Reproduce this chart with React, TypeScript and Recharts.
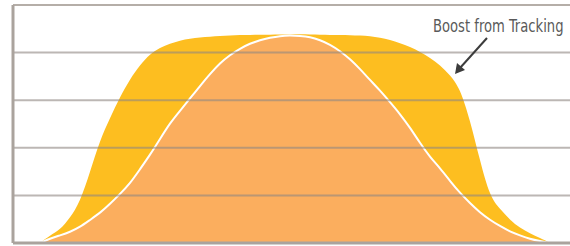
import React from "react";
import { ComposedChart, Area, XAxis, YAxis, ReferenceLine } from "recharts";

const xs = [40, 50, 60, 70, 80, 90, 100, 110, 120, 130, 140, 150, 160, 170, 180, 190, 200, 210, 220, 230, 240, 250, 260, 270, 280, 290, 300, 310, 320, 330, 340, 350, 360, 370, 380, 390, 400, 410, 420, 430, 440, 450, 460, 470, 480, 490, 500, 510, 520, 530, 540, 550];
const withTracking = [0, 3.2, 5.5, 10.5, 17.2, 29.8, 43.3, 52.5, 61.3, 68.9, 74.8, 79.4, 82.1, 83.8, 85.1, 85.9, 86.4, 86.7, 87.0, 87.2, 87.4, 87.4, 87.5, 87.5, 87.6, 87.6, 87.7, 87.6, 87.5, 87.4, 87.4, 87.3, 87.2, 87.0, 86.3, 85.3, 84.0, 82.4, 80.3, 77.9, 74.8, 70.6, 65.1, 51.7, 34.5, 19.3, 14.3, 9.7, 6.3, 4.0, 2.1, 0];
const fixedMount = [0, 1.9, 3.2, 4.6, 6.7, 9.7, 12.6, 16.4, 20.6, 25.0, 31.0, 37.0, 43.7, 50.4, 55.5, 60.7, 66.0, 71.0, 75.6, 79.0, 81.7, 83.8, 85.3, 86.3, 87.0, 87.2, 87.0, 86.6, 85.3, 83.4, 80.7, 77.3, 73.1, 68.5, 64.1, 59.2, 54.2, 48.5, 42.0, 36.1, 31.5, 26.1, 21.0, 16.8, 12.8, 9.7, 7.1, 4.8, 3.2, 1.7, 0.8, 0];
const gridValues = [20, 40, 60, 80];
const annotation = "Boost from Tracking";

const data = xs.map((x, i) => ({ x, tracking: withTracking[i], fixed: fixedMount[i] }));

export default function App() {
  return (
    <div style={{ position: "absolute", left: 0, top: 0, width: 570, height: 246 }}>
      <ComposedChart width={570} height={246} data={data} margin={{ top: 5, right: 0, left: 13, bottom: 3 }}>
        <XAxis dataKey="x" type="number" domain={[13, 570]} hide />
        <YAxis type="number" domain={[0, 100]} hide />
        <Area type="basis" dataKey="tracking" stroke="none" fill="#fdbe20" fillOpacity={1} isAnimationActive={false} />
        <Area type="basis" dataKey="fixed" stroke="#ffffff" strokeWidth={2} fill="#fbae5e" fillOpacity={1} isAnimationActive={false} />
        {gridValues.map((v) => (
          <ReferenceLine key={v} y={v} stroke="#8f8782" strokeOpacity={0.6} strokeWidth={2} />
        ))}
        <ReferenceLine y={100} stroke="#b5aea8" strokeWidth={2} />
        <ReferenceLine y={0} stroke="#aaa39d" strokeWidth={3} />
        <ReferenceLine x={13} stroke="#aaa39d" strokeWidth={3} />
      </ComposedChart>
      <svg width={570} height={246} style={{ position: "absolute", left: 0, top: 0, pointerEvents: "none" }}>
        <text transform="translate(433,32) scale(0.86,1)" x={0} y={0} fontFamily="'DejaVu Sans Condensed', sans-serif" fontSize={17} fill="#5a5a5a">
          {annotation}
        </text>
        <line x1={487} y1={38} x2={460} y2={68} stroke="#3c3c3c" strokeWidth={2} />
        <polygon points="455,74 457,63 465,70" fill="#3c3c3c" />
      </svg>
    </div>
  );
}
